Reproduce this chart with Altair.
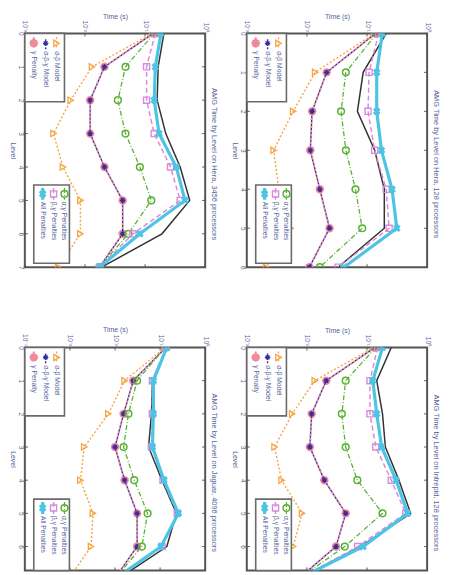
import altair as alt
import pandas as pd

# ---------------- data ----------------
SERIES = ["Measured", "γ Penalty", "α-β-γ Model", "α-β Model",
          "α,γ Penalties", "β,γ Penalties", "All Penalties"]

titles = [
    "AMG Time by Level on Hera, 3456 processors",
    "AMG Time by Level on Hera, 128 processors",
    "AMG Time by Level on Jaguar, 4096 processors",
    "AMG Time by Level on Intrepid, 128 processors",
]
levels_a = [0, 1, 2, 3, 4, 5, 6, 7]
levels_b = [0, 1, 2, 3, 4, 5, 6]
time_ticks_3 = [0.001, 0.01, 0.1, 1]
time_ticks_4 = [0.0001, 0.001, 0.01, 0.1, 1]

# panel 1 (top-left)
p1_measured = [0.206, 0.165, 0.159, 0.221, 0.384, 0.553, 0.191, 0.0189]
p1_gamma = [0.137, 0.0211, 0.0122, 0.0122, 0.0211, 0.0424, 0.0424, 0.0175]
p1_abg = [0.137, 0.0211, 0.0122, 0.0122, 0.0211, 0.0424, 0.0424, 0.0175]
p1_ab = [0.132, 0.0131, 0.0058, 0.0030, 0.0043, 0.0084, 0.0084, 0.0036]
p1_ag_pen = [0.142, 0.0473, 0.0353, 0.0473, 0.082, 0.127, 0.0528, 0.0175]
p1_bg_pen = [0.148, 0.106, 0.106, 0.142, 0.265, 0.384, 0.063, 0.0175]
p1_all_pen = [0.184, 0.148, 0.142, 0.171, 0.331, 0.461, 0.082, 0.0175]

# panel 2 (top-right)
p2_measured = [0.209, 0.0863, 0.0692, 0.134, 0.194, 0.194, 0.0331]
p2_gamma = [0.139, 0.0213, 0.0122, 0.0114, 0.0164, 0.0238, 0.011]
p2_abg = [0.139, 0.0213, 0.0122, 0.0114, 0.0164, 0.0238, 0.011]
p2_ab = [0.134, 0.0137, 0.0059, 0.0028, 0.0034, 0.0054, 0.0021]
p2_ag_pen = [0.145, 0.0445, 0.037, 0.0445, 0.0643, 0.0832, 0.0164]
p2_bg_pen = [0.156, 0.108, 0.104, 0.134, 0.209, 0.233, 0.0331]
p2_all_pen = [0.180, 0.145, 0.145, 0.174, 0.261, 0.313, 0.0413]

# panel 3 (bottom-left)
p3_measured = [0.141, 0.0676, 0.0644, 0.0555, 0.110, 0.230, 0.141, 0.0110]
p3_gamma = [0.134, 0.0254, 0.0155, 0.0100, 0.0163, 0.0309, 0.0309, 0.0095]
p3_abg = [0.134, 0.0254, 0.0155, 0.0100, 0.0163, 0.0309, 0.0309, 0.0095]
p3_ab = [0.130, 0.0163, 0.0071, 0.00208, 0.00171, 0.00324, 0.00294, 0.00091]
p3_ag_pen = [0.130, 0.0309, 0.0199, 0.0155, 0.0267, 0.0528, 0.0394, 0.0095]
p3_bg_pen = [0.134, 0.0676, 0.0676, 0.0644, 0.116, 0.240, 0.110, 0.0095]
p3_all_pen = [0.141, 0.0710, 0.0710, 0.0676, 0.122, 0.254, 0.105, 0.0095]

# panel 4 (bottom-right)
p4_measured = [0.253, 0.145, 0.181, 0.202, 0.340, 0.532, 0.077, 0.0069]
p4_gamma = [0.135, 0.0210, 0.0120, 0.0112, 0.0195, 0.0442, 0.0305, 0.0069]
p4_abg = [0.135, 0.0210, 0.0120, 0.0112, 0.0195, 0.0442, 0.0305, 0.0069]
p4_ab = [0.130, 0.0135, 0.0057, 0.0029, 0.0038, 0.0083, 0.0059, 0.0013]
p4_ag_pen = [0.140, 0.0442, 0.0381, 0.0442, 0.069, 0.181, 0.0426, 0.0069]
p4_bg_pen = [0.150, 0.112, 0.112, 0.140, 0.253, 0.442, 0.070, 0.0069]
p4_all_pen = [0.181, 0.125, 0.145, 0.175, 0.305, 0.475, 0.086, 0.0069]

# visible level range of each panel (the lower panels are cut off by the page edge)
level_view = [[0, 7], [0, 6], [0, 6.72], [0, 6.72]]

PANELS = [
    (titles[0], levels_a, time_ticks_3, level_view[0], 236,
     [p1_measured, p1_gamma, p1_abg, p1_ab, p1_ag_pen, p1_bg_pen, p1_all_pen]),
    (titles[1], levels_b, time_ticks_3, level_view[1], 236,
     [p2_measured, p2_gamma, p2_abg, p2_ab, p2_ag_pen, p2_bg_pen, p2_all_pen]),
    (titles[2], levels_a, time_ticks_4, level_view[2], 225,
     [p3_measured, p3_gamma, p3_abg, p3_ab, p3_ag_pen, p3_bg_pen, p3_all_pen]),
    (titles[3], levels_a, time_ticks_3, level_view[3], 225,
     [p4_measured, p4_gamma, p4_abg, p4_ab, p4_ag_pen, p4_bg_pen, p4_all_pen]),
]

# ---------------- styles ----------------
ASTERISK = "M-1,0L1,0M0,-1L0,1M-0.7,-0.7L0.7,0.7M-0.7,0.7L0.7,-0.7"
STYLE = {
    "Measured": dict(color="#333333", width=1.5),
    "γ Penalty": dict(color="#ee8a9a", width=2.0, dash=[2, 2], offset=0,
                      shape="circle", filled=True, size=72),
    "α-β-γ Model": dict(color="#3b2c9e", width=1.4, dash=[2, 2], offset=2,
                        shape=ASTERISK, filled=False, size=30, sw=1.3),
    "α-β Model": dict(color="#f6a442", width=1.4, dash=[2, 2],
                      shape="triangle-right", filled=False, size=40, sw=1.3),
    "α,γ Penalties": dict(color="#58b232", width=1.3, dash=[5, 2, 1, 2],
                          shape="circle", filled=False, size=46, sw=1.5),
    "β,γ Penalties": dict(color="#da8ada", width=1.5, dash=[5, 3],
                          shape="square", filled=False, size=38, sw=1.4),
    "All Penalties": dict(color="#4cc4e4", width=3.2, shape="cross",
                          angle=45, filled=True, size=62),
}
DRAW_ORDER = ["Measured", "α-β Model", "γ Penalty", "α-β-γ Model",
              "α,γ Penalties", "β,γ Penalties", "All Penalties"]
LEGEND_TOP = ["γ Penalty", "α-β-γ Model", "α-β Model"]
LEGEND_BOTTOM = ["All Penalties", "β,γ Penalties", "α,γ Penalties"]

TXT = "#56639a"
FRAME = "#555555"
FONT = "Liberation Sans"
W = 182

LABEL_EXPR = ("'10' + (datum.value < 0.0005 ? '⁻⁴' : datum.value < 0.005 ? '⁻³' : "
              "datum.value < 0.05 ? '⁻²' : datum.value < 0.5 ? '⁻¹' : '⁰')")


def line_kw(st):
    kw = dict(color=st["color"], strokeWidth=st["width"], clip=True)
    if "dash" in st:
        kw["strokeDash"] = st["dash"]
    if st.get("offset"):
        kw["strokeDashOffset"] = st["offset"]
    return kw


def point_kw(st):
    kw = dict(shape=st["shape"], size=st["size"], opacity=1, clip=True)
    if st["filled"]:
        kw.update(filled=True, fill=st["color"], color=st["color"], strokeWidth=0)
    else:
        kw.update(filled=False, stroke=st["color"], color=st["color"],
                  strokeWidth=st.get("sw", 1.3))
    if "angle" in st:
        kw["angle"] = st["angle"]
    return kw


def legend_layers(names, x0, y0, x1, y1, xs, sym_y, text_y):
    one = pd.DataFrame({"k": [0]})
    out = [alt.Chart(one).mark_rect(fill="white", stroke="#6a6a6a", strokeWidth=1.6)
           .encode(x=alt.value(x0), x2=alt.value(x1), y=alt.value(y0), y2=alt.value(y1))]
    for name, lx in zip(names, xs):
        st = STYLE[name]
        out.append(alt.Chart(one).mark_rule(**line_kw(st))
                   .encode(x=alt.value(lx), y=alt.value(sym_y - 6), y2=alt.value(sym_y + 6)))
        out.append(alt.Chart(one).mark_point(**point_kw(st))
                   .encode(x=alt.value(lx), y=alt.value(sym_y)))
        out.append(alt.Chart(pd.DataFrame({"label": [name]}))
                   .mark_text(angle=90, align="left", baseline="middle", fontSize=6.8,
                              font=FONT, color=TXT, clip=True)
                   .encode(x=alt.value(lx), y=alt.value(text_y), text="label:N"))
    return out


def panel(title, levels, ticks, view, H, values):
    rows = []
    for name, vals in zip(SERIES, values):
        for lv, v in zip(levels, vals):
            rows.append({"series": name, "level": lv, "time": v})
    df = pd.DataFrame(rows)
    shown = [lv for lv in levels if lv <= view[1]]
    xscale = alt.Scale(type="log", domain=[ticks[0], ticks[-1]], nice=False)
    yscale = alt.Scale(domain=view, reverse=True, nice=False, zero=False)
    x = alt.X("time:Q", scale=xscale,
              axis=alt.Axis(orient="top", values=ticks, labelExpr=LABEL_EXPR,
                            labelAngle=90, labelAlign="right", labelBaseline="middle",
                            labelPadding=2, title="Time (s)", titlePadding=1))
    y = alt.Y("level:Q", scale=yscale,
              axis=alt.Axis(orient="left", values=shown, format="d",
                            labelAngle=90, labelAlign="center", labelBaseline="top",
                            labelPadding=1, title="Level", titleAngle=90,
                            titleBaseline="top", titlePadding=1))
    layers = []
    # inward ticks on all four sides
    lev_df = pd.DataFrame({"level": shown})
    tick_df = pd.DataFrame({"time": ticks})
    for a, b in [(0, 3), (W - 3, W)]:
        layers.append(alt.Chart(lev_df).mark_rule(color=FRAME, strokeWidth=1)
                      .encode(y=y, x=alt.value(a), x2=alt.value(b)))
    for a, b in [(0, 3), (H - 3, H)]:
        layers.append(alt.Chart(tick_df).mark_rule(color=FRAME, strokeWidth=1)
                      .encode(x=x, y=alt.value(a), y2=alt.value(b)))
    for name in DRAW_ORDER:
        st = STYLE[name]
        base = alt.Chart(df).transform_filter(alt.datum.series == name)
        layers.append(base.mark_line(**line_kw(st))
                      .encode(x=x, y=y, order=alt.Order("level:Q")))
        if "shape" in st:
            layers.append(base.mark_point(**point_kw(st)).encode(x=x, y=y))
    layers += legend_layers(LEGEND_TOP, 0, 0, 40, 69, [9, 21, 32], 10, 18)
    layers += legend_layers(LEGEND_BOTTOM, 9, 153, 45, min(232, H), [18, 29, 40],
                            162, 170)
    return alt.layer(*layers).properties(
        width=W, height=H,
        title=alt.TitleParams(title, orient="right", anchor="middle", offset=2,
                              dx=14, fontSize=7.5, font=FONT, color=TXT,
                              fontWeight="normal"))


charts = [panel(*p) for p in PANELS]
chart = alt.concat(*charts, columns=2, spacing={"row": 54, "column": 11},
                   padding={"left": 0, "top": 0, "right": 0, "bottom": 0}) \
    .configure_view(stroke=FRAME, strokeWidth=2) \
    .configure_axis(domain=False, ticks=False, grid=False, labelFont=FONT,
                    titleFont=FONT, labelColor=TXT, titleColor=TXT,
                    labelFontSize=6.5, titleFontSize=7, titleFontWeight="normal")

chart.save("out.html", embed_options={"renderer": "svg", "actions": False})
